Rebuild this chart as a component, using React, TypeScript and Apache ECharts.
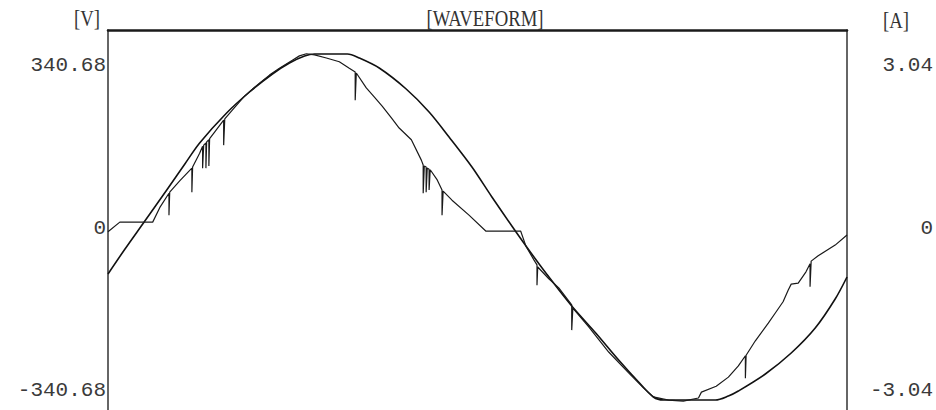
import React, { useEffect, useRef } from "react";
import * as echarts from "echarts";

// Time axis in ms (20 ms window)
const voltageTime = [0.0, 0.46, 0.94, 1.59, 2.08, 2.48, 3.21, 3.83, 4.45, 4.91, 5.32, 5.59, 6.48, 6.8, 7.34, 8.07, 8.69, 9.23, 9.85, 10.39, 10.93, 11.39, 11.85, 12.55, 13.2, 13.82, 14.36, 14.76, 15.03, 16.44, 16.79, 17.06, 17.79, 18.49, 19.14, 19.68, 20.0];
const voltageValues = [-96.4, -44.0, 8.4, 79.7, 134.2, 178.2, 241.1, 285.1, 322.9, 345.9, 360.6, 364.8, 364.8, 356.4, 335.4, 291.4, 243.2, 190.8, 127.9, 65.0, 4.2, -46.1, -94.3, -163.5, -220.1, -276.7, -322.9, -354.3, -360.6, -360.6, -352.2, -341.7, -306.1, -262.1, -209.7, -148.9, -102.7];

const currentTime = [0.0, 0.32, 1.21, 1.4, 1.65, 1.65, 1.67, 1.94, 2.27, 2.27, 2.29, 2.48, 2.56, 2.56, 2.59, 2.65, 2.65, 2.67, 2.73, 2.73, 2.75, 2.89, 3.13, 3.13, 3.16, 3.37, 3.7, 4.1, 4.37, 4.64, 4.99, 5.18, 5.37, 5.59, 5.91, 6.26, 6.53, 6.69, 6.69, 6.72, 6.99, 7.21, 7.42, 7.67, 7.88, 8.21, 8.48, 8.53, 8.53, 8.56, 8.61, 8.61, 8.64, 8.69, 8.69, 8.72, 8.91, 9.04, 9.04, 9.07, 9.31, 9.77, 10.23, 11.17, 11.31, 11.53, 11.61, 11.61, 11.63, 11.93, 12.2, 12.55, 12.55, 12.58, 13.01, 13.55, 14.09, 14.49, 14.76, 15.17, 15.57, 15.98, 16.06, 16.46, 16.79, 17.06, 17.25, 17.25, 17.27, 17.52, 17.87, 18.06, 18.27, 18.41, 18.49, 18.68, 18.89, 19.0, 19.0, 19.03, 19.22, 19.68, 20.0];
const currentValues = [-0.07, 0.11, 0.11, 0.38, 0.65, 0.24, 0.67, 0.88, 1.12, 0.67, 1.14, 1.4, 1.53, 1.12, 1.55, 1.59, 1.12, 1.61, 1.65, 1.16, 1.67, 1.8, 2.02, 1.55, 2.04, 2.21, 2.47, 2.71, 2.86, 2.99, 3.14, 3.22, 3.26, 3.24, 3.18, 3.11, 2.99, 2.92, 2.39, 2.9, 2.62, 2.45, 2.28, 2.06, 1.87, 1.65, 1.27, 1.18, 0.65, 1.16, 1.14, 0.67, 1.12, 1.1, 0.71, 1.09, 0.9, 0.71, 0.24, 0.69, 0.52, 0.24, -0.06, -0.06, -0.34, -0.6, -0.69, -1.07, -0.73, -0.95, -1.12, -1.44, -1.91, -1.5, -1.85, -2.32, -2.71, -2.99, -3.16, -3.22, -3.24, -3.18, -3.07, -2.96, -2.79, -2.58, -2.39, -2.81, -2.38, -2.11, -1.78, -1.59, -1.38, -1.16, -1.05, -1.03, -0.82, -0.67, -1.1, -0.62, -0.52, -0.32, -0.13];

const voltageTicks = [-340.68, 0, 340.68];
const currentTicks = [-3.04, 0, 3.04];
const voltageRange = 415.1;
const currentRange = 3.704;

const title = "[WAVEFORM]";
const leftUnit = "[V]";
const rightUnit = "[A]";

const fmt = (v: number) => (Math.abs(v) < 1e-9 ? "0" : v.toFixed(2));

export default function App() {
  const ref = useRef<HTMLDivElement>(null);
  useEffect(() => {
    if (!ref.current) return;
    const chart = echarts.init(ref.current, undefined, { renderer: "svg" });
    const vData = voltageTime.map((t, i) => [t, voltageValues[i]]);
    const cData = currentTime.map((t, i) => [t, currentValues[i]]);
    const labelFont = {
      fontFamily: "'Liberation Mono', 'DejaVu Sans Mono', monospace",
      fontSize: 21,
      color: "#3a3a3a",
    };
    const unitStyle = {
      fontFamily: "'Liberation Serif', serif",
      fontSize: 24,
      fill: "#333",
      textAlign: "center",
      textVerticalAlign: "middle",
    };
    chart.setOption({
      animation: false,
      backgroundColor: "#ffffff",
      grid: { left: 108, right: 87, top: 30, bottom: 0, containLabel: false },
      xAxis: {
        type: "value",
        min: 0,
        max: 20,
        position: "top",
        axisLine: { show: true, onZero: false, lineStyle: { color: "#1a1a1a", width: 2.5 } },
        axisTick: { show: false },
        axisLabel: { show: false },
        splitLine: { show: false },
      },
      yAxis: [
        {
          type: "value",
          min: -voltageRange,
          max: voltageRange,
          position: "left",
          axisLine: { show: true, onZero: false, lineStyle: { color: "#333", width: 1.5 } },
          axisTick: { show: false },
          splitLine: { show: false },
          axisLabel: {
            ...labelFont,
            margin: 2,
            customValues: voltageTicks,
            formatter: (v: number) => fmt(v),
          },
        },
        {
          type: "value",
          min: -currentRange,
          max: currentRange,
          position: "right",
          axisLine: { show: true, onZero: false, lineStyle: { color: "#333", width: 1.5 } },
          axisTick: { show: false },
          splitLine: { show: false },
          axisLabel: {
            ...labelFont,
            margin: 86,
            align: "right",
            customValues: currentTicks,
            formatter: (v: number) => fmt(v),
          },
        },
      ],
      graphic: [
        { type: "text", x: 485, y: 18, scaleX: 0.78, style: { ...unitStyle, text: title } },
        { type: "text", x: 87, y: 18, scaleX: 0.78, style: { ...unitStyle, text: leftUnit } },
        { type: "text", x: 896, y: 20, scaleX: 0.78, style: { ...unitStyle, text: rightUnit } },
      ],
      series: [
        {
          type: "line",
          name: "Voltage",
          yAxisIndex: 0,
          data: vData,
          showSymbol: false,
          smooth: 0.3,
          lineStyle: { color: "#111", width: 1.6 },
        },
        {
          type: "line",
          name: "Current",
          yAxisIndex: 1,
          data: cData,
          showSymbol: false,
          lineStyle: { color: "#1a1a1a", width: 1.2 },
        },
      ],
    });
    return () => chart.dispose();
  }, []);
  return (
    <div
      style={{
        position: "fixed",
        left: 0,
        top: 0,
        width: 936,
        height: 410,
        overflow: "hidden",
        background: "#fff",
      }}
    >
      <div ref={ref} style={{ width: 936, height: 426 }} />
    </div>
  );
}
